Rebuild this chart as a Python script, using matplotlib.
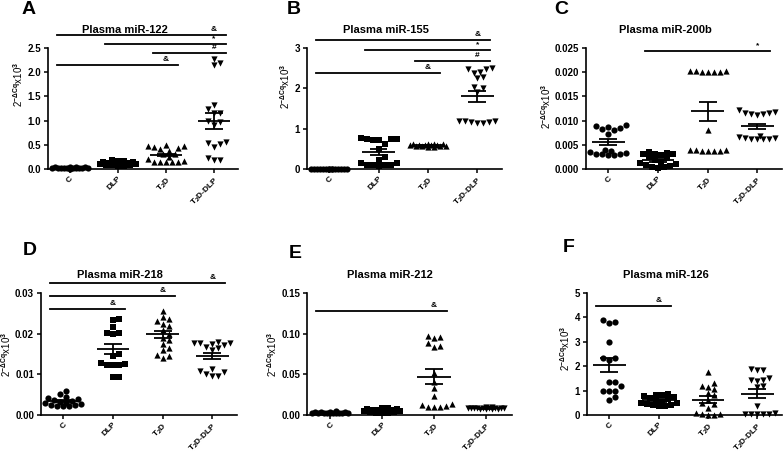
import numpy as np
import matplotlib
matplotlib.use('Agg')
import matplotlib.pyplot as plt
from matplotlib.ticker import FormatStrFormatter

plt.rcParams['font.family'] = ['Liberation Sans', 'DejaVu Sans']
plt.rcParams['font.weight'] = 'bold'
plt.rcParams['mathtext.fontset'] = 'custom'
plt.rcParams['mathtext.rm'] = 'Liberation Sans:bold'
plt.rcParams['mathtext.it'] = 'Liberation Sans:bold'
plt.rcParams['mathtext.bf'] = 'Liberation Sans:bold'

groups = ['C', 'DLP', r'T$_2$D', r'T$_2$D-DLP']
markers = ['o', 's', '^', 'v']
ylab = r'2$^{-\Delta Cq}$x10$^3$'

# --- A: miR-122 ---
a_c = [0.02, 0.03, 0.04, 0.03, 0.02, 0.05, 0.03, 0.04, 0.02, 0.03, 0.01, 0.04, 0.03, 0.02, 0.03]
a_dlp = [0.18, 0.17, 0.16, 0.15, 0.14, 0.13, 0.12, 0.12, 0.11, 0.10, 0.10, 0.09, 0.08, 0.08, 0.07, 0.07]
a_t2d = [0.50, 0.48, 0.47, 0.45, 0.43, 0.42, 0.38, 0.32, 0.30, 0.25, 0.20, 0.17, 0.15, 0.15, 0.14, 0.14, 0.15]
a_t2d_dlp = [2.28, 2.20, 2.15, 1.33, 1.25, 1.15, 1.15, 1.00, 0.98, 0.90, 0.55, 0.52, 0.45, 0.53, 0.22, 0.18, 0.18]
a_mean = [0.03, 0.12, 0.29, 0.99]
a_sem = [0.004, 0.01, 0.03, 0.165]
a_sig = [(0, 3, 2.77, '&'), (1, 3, 2.58, '*'), (2, 3, 2.39, '#'), (0, 2, 2.14, '&')]

# --- B: miR-155 ---
b_c = [0.01, 0.0, 0.0, 0.01, 0.0, 0.0, 0.01, 0.0, 0.0, 0.0, 0.01, 0.0, 0.0, 0.0, 0.0]
b_dlp = [0.76, 0.75, 0.74, 0.74, 0.73, 0.72, 0.62, 0.50, 0.30, 0.23, 0.15, 0.14, 0.10, 0.10, 0.09, 0.08, 0.10]
b_t2d = [0.60, 0.62, 0.58, 0.55, 0.60, 0.57, 0.63, 0.60, 0.55, 0.58, 0.60, 0.62, 0.56, 0.59, 0.61]
b_t2d_dlp = [2.50, 2.49, 2.48, 2.40, 2.38, 2.27, 2.25, 2.03, 2.00, 1.90, 1.20, 1.19, 1.18, 1.17, 1.16, 1.15, 1.14]
b_mean = [0.0, 0.42, 0.59, 1.80]
b_sem = [0.002, 0.08, 0.01, 0.14]
b_sig = [(0, 3, 3.20, '&'), (1, 3, 2.94, '*'), (2, 3, 2.67, '#'), (0, 2, 2.37, '&')]

# --- C: miR-200b ---
c_c = [0.0090, 0.0088, 0.0086, 0.0084, 0.0082, 0.0080, 0.0072, 0.0040, 0.0038, 0.0036,
       0.0034, 0.0032, 0.0031, 0.0030, 0.0029, 0.0028]
c_dlp = [0.0035, 0.0033, 0.0032, 0.0030, 0.0030, 0.0028, 0.0025, 0.0022, 0.0018, 0.0015,
         0.0012, 0.0010, 0.0008, 0.0006, 0.0005, 0.0004, 0.0003]
c_t2d = [0.0203, 0.0202, 0.0202, 0.0201, 0.0201, 0.0200, 0.0200, 0.0081, 0.0040, 0.0039,
         0.0039, 0.0038, 0.0038, 0.0038, 0.0037]
c_t2d_dlp = [0.0122, 0.0117, 0.0116, 0.0115, 0.0114, 0.0113, 0.0112, 0.0068, 0.0066, 0.0065,
             0.0064, 0.0063, 0.0062, 0.0062, 0.0061]
c_mean = [0.0056, 0.0018, 0.0119, 0.0088]
c_sem = [0.0007, 0.0003, 0.0020, 0.0006]
c_sig = [(1, 3, 0.0243, '*')]

# --- D: miR-218 ---
d_c = [0.0060, 0.0052, 0.0045, 0.0042, 0.0040, 0.0038, 0.0035, 0.0033, 0.0030, 0.0030,
       0.0028, 0.0025, 0.0024, 0.0022, 0.0022, 0.0021]
d_dlp = [0.0235, 0.0234, 0.0217, 0.0202, 0.0201, 0.0200, 0.0150, 0.0145, 0.0127, 0.0125,
         0.0124, 0.0123, 0.0122, 0.0094, 0.0094]
d_t2d = [0.0255, 0.0240, 0.0235, 0.0232, 0.0225, 0.0220, 0.0210, 0.0200, 0.0190, 0.0185,
         0.0175, 0.0165, 0.0160, 0.0148, 0.0145, 0.0140]
d_t2d_dlp = [0.0180, 0.0178, 0.0177, 0.0176, 0.0175, 0.0172, 0.0168, 0.0165, 0.0160, 0.0112,
             0.0108, 0.0105, 0.0100, 0.0097, 0.0095]
d_mean = [0.0034, 0.0162, 0.0198, 0.0145]
d_sem = [0.0003, 0.0013, 0.0009, 0.0008]
d_sig = [(0, 3, 0.0325, '&'), (0, 2, 0.0293, '&'), (0, 1, 0.0261, '&')]

# --- E: miR-212 ---
e_c = [0.005, 0.004, 0.004, 0.003, 0.003, 0.003, 0.002, 0.002, 0.003, 0.004, 0.002, 0.003, 0.002, 0.003, 0.004]
e_dlp = [0.008, 0.008, 0.007, 0.007, 0.006, 0.006, 0.005, 0.005, 0.005, 0.004, 0.004, 0.003, 0.003, 0.002, 0.006]
e_t2d = [0.097, 0.096, 0.095, 0.089, 0.085, 0.084, 0.052, 0.041, 0.033, 0.023, 0.014, 0.012,
         0.011, 0.010, 0.010, 0.010]
e_t2d_dlp = [0.010, 0.010, 0.009, 0.009, 0.009, 0.008, 0.008, 0.008, 0.008, 0.007, 0.007, 0.007, 0.007, 0.008, 0.009]
e_mean = [0.003, 0.005, 0.047, 0.008]
e_sem = [0.0003, 0.0005, 0.009, 0.0003]
e_sig = [(0, 2, 0.128, '&')]

# --- F: miR-126 ---
f_c = [3.90, 3.80, 3.78, 3.00, 2.35, 2.32, 2.25, 1.35, 1.35, 1.20, 1.00, 1.00, 0.97, 0.75, 0.62]
f_dlp = [0.85, 0.83, 0.80, 0.78, 0.75, 0.70, 0.65, 0.60, 0.55, 0.50, 0.48, 0.45, 0.42, 0.40, 0.38, 0.36]
f_t2d = [1.75, 1.30, 1.20, 1.15, 1.05, 0.90, 0.80, 0.60, 0.50, 0.45, 0.30, 0.10, 0.05, 0.05, 0.02, 0.00]
f_t2d_dlp = [1.88, 1.85, 1.83, 1.50, 1.45, 1.42, 1.40, 1.20, 1.15, 0.35, 0.10, 0.05, 0.05, 0.05, 0.04, 0.03]
f_mean = [2.05, 0.60, 0.63, 0.87]
f_sem = [0.30, 0.05, 0.13, 0.18]
f_sig = [(0, 1, 4.48, '&')]


def swarm(vals, ylim, h_px, unit_px, d=6.0, maxw=20):
    """Spread points sideways so markers do not sit on top of each other."""
    vals = np.asarray(vals, dtype=float)
    steps = np.arange(d / 2, maxw + 0.01, d / 2)
    cands = [0.0] + [s * sgn for s in steps for sgn in (1, -1)]
    px, py = [], []
    xs = np.zeros(len(vals))
    for i in np.argsort(vals):
        y = (vals[i] - ylim[0]) / (ylim[1] - ylim[0]) * h_px
        best, best_gap = 0.0, -1.0
        for c in cands:
            gap = min([np.hypot(c - a, y - b) for a, b in zip(px, py)], default=99.0)
            if gap >= d:
                best = c
                break
            if gap > best_gap:
                best, best_gap = c, gap
        px.append(best)
        py.append(y)
        xs[i] = best / unit_px
    return xs


W, H = 784, 453
fig = plt.figure(figsize=(W / 100, H / 100), dpi=100)
xlim = (-0.45, 3.5)

panels = [
    ('A', 'Plasma miR-122', [a_c, a_dlp, a_t2d, a_t2d_dlp], a_mean, a_sem, a_sig,
     (0, 2.5), np.arange(0, 2.51, 0.5), '%.1f', (48, 238, 169, 48), 0.70, (29, 10)),
    ('B', 'Plasma miR-155', [b_c, b_dlp, b_t2d, b_t2d_dlp], b_mean, b_sem, b_sig,
     (0, 3), np.arange(0, 3.1, 1), '%d', (307, 502, 169, 48), 0.68, (294, 10)),
    ('C', 'Plasma miR-200b', [c_c, c_dlp, c_t2d, c_t2d_dlp], c_mean, c_sem, c_sig,
     (0, 0.025), np.arange(0, 0.0251, 0.005), '%.3f', (586, 782, 169, 48), 0.52, (561, 10)),
    ('D', 'Plasma miR-218', [d_c, d_dlp, d_t2d, d_t2d_dlp], d_mean, d_sem, d_sig,
     (0, 0.03), np.arange(0, 0.031, 0.01), '%.2f', (41, 237, 415, 293), 0.5, (30, 250)),
    ('E', 'Plasma miR-212', [e_c, e_dlp, e_t2d, e_t2d_dlp], e_mean, e_sem, e_sig,
     (0, 0.15), np.arange(0, 0.151, 0.05), '%.2f', (307, 512, 415, 293), 0.5, (295, 253)),
    ('F', 'Plasma miR-126', [f_c, f_dlp, f_t2d, f_t2d_dlp], f_mean, f_sem, f_sig,
     (0, 5), np.arange(0, 5.1, 1), '%d', (587, 782, 415, 293), 0.55, (569, 247)),
]

for letter, title, data, means, sems, sig, ylim, yticks, fmt, box, ylab_y, lpos in panels:
    l, r, b, t = box
    ax = fig.add_axes([l / W, (H - b) / H, (r - l) / W, (b - t) / H])
    unit_px = (r - l) / (xlim[1] - xlim[0])
    for i, vals in enumerate(data):
        xs = i + swarm(vals, ylim, b - t, unit_px)
        ax.scatter(xs, vals, marker=markers[i], s=20, color='black', linewidths=0,
                   zorder=3, clip_on=False)
        m, s = means[i], sems[i]
        ax.hlines(m, i - 0.33, i + 0.33, color='black', lw=1.3, zorder=4)
        ax.hlines([m - s, m + s], i - 0.18, i + 0.18, color='black', lw=1.3, zorder=4)
        ax.vlines(i, m - s, m + s, color='black', lw=1.3, zorder=4)
    for x1, x2, y, sym in sig:
        ax.plot([x1 - 0.27, x2 + 0.25], [y, y], color='black', lw=1.3, clip_on=False)
        ax.annotate(sym, (x2, y), xytext=(0, 1.5), textcoords='offset points',
                    ha='center', va='bottom', fontsize=6, annotation_clip=False)
    ax.set_xlim(*xlim)
    ax.set_ylim(*ylim)
    ax.set_yticks(yticks)
    ax.yaxis.set_major_formatter(FormatStrFormatter(fmt))
    ax.set_xticks(range(4))
    ax.set_xticklabels(groups, rotation=45, ha='right', rotation_mode='anchor')
    ax.tick_params(labelsize=7, length=3, width=1.1, pad=2)
    ax.tick_params(axis='x', labelsize=6, pad=1.5)
    for sp in ['top', 'right']:
        ax.spines[sp].set_visible(False)
    for sp in ['left', 'bottom']:
        ax.spines[sp].set_linewidth(1.2)
    ax.set_ylabel(ylab, fontsize=7, labelpad=1.5, y=ylab_y)
    ax.text(1.15, 1.15, title, transform=ax.get_xaxis_transform(), ha='center',
            va='center', fontsize=8, fontweight='bold')
    fig.text(lpos[0] / W, 1 - lpos[1] / H, letter, ha='center', va='center',
             fontsize=14, fontweight='bold')

fig.savefig('out.png', dpi=100)
